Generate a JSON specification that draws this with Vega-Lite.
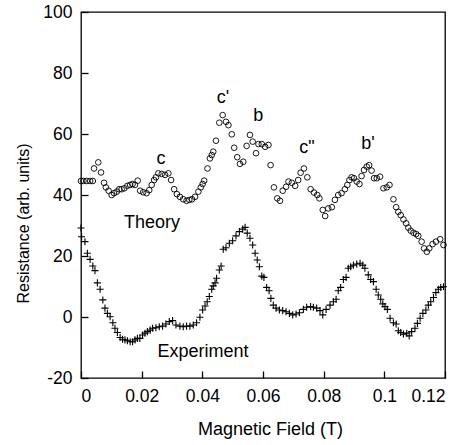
{
  "$schema": "https://vega.github.io/schema/vega-lite/v6.json",
  "width": 364,
  "height": 366,
  "autosize": "none",
  "padding": {"left": 81, "top": 12, "right": 22, "bottom": 67},
  "background": "white",
  "config": {
    "font": "Liberation Sans",
    "view": {"stroke": "black", "strokeWidth": 1.3},
    "axis": {
      "domain": false, "offset": -7, "tickColor": "black", "tickWidth": 1.3, "tickSize": 7,
      "labelColor": "black", "titleColor": "black", "labelFont": "Liberation Sans", "titleFont": "Liberation Sans",
      "labelFontSize": 17.5, "titleFontWeight": "normal", "grid": false, "labelPadding": 9
    }
  },
  "datasets": {
    "theory": [
      {"B":0.0000,"R":44.6},{"B":0.0008,"R":44.6},{"B":0.0019,"R":44.6},{"B":0.0030,"R":44.6},{"B":0.0039,"R":44.6},{"B":0.0043,"R":48.7},{"B":0.0057,"R":50.7},{"B":0.0066,"R":47.4},{"B":0.0076,"R":44.0},{"B":0.0082,"R":42.5},{"B":0.0091,"R":41.4},{"B":0.0101,"R":40.0},{"B":0.0109,"R":40.6},{"B":0.0118,"R":41.1},{"B":0.0126,"R":41.9},{"B":0.0134,"R":41.9},{"B":0.0143,"R":42.2},{"B":0.0153,"R":43.0},{"B":0.0162,"R":43.3},{"B":0.0170,"R":43.6},{"B":0.0178,"R":43.3},{"B":0.0187,"R":44.7},{"B":0.0195,"R":41.4},{"B":0.0205,"R":40.9},{"B":0.0216,"R":40.6},{"B":0.0225,"R":41.6},{"B":0.0233,"R":43.3},{"B":0.0241,"R":44.9},{"B":0.0247,"R":45.8},{"B":0.0255,"R":47.1},{"B":0.0266,"R":46.9},{"B":0.0277,"R":46.6},{"B":0.0288,"R":47.1},{"B":0.0297,"R":44.9},{"B":0.0307,"R":41.9},{"B":0.0316,"R":40.3},{"B":0.0326,"R":39.4},{"B":0.0337,"R":38.6},{"B":0.0348,"R":38.1},{"B":0.0357,"R":38.4},{"B":0.0366,"R":38.6},{"B":0.0376,"R":39.4},{"B":0.0387,"R":41.1},{"B":0.0395,"R":42.5},{"B":0.0401,"R":43.6},{"B":0.0406,"R":44.7},{"B":0.0417,"R":48.7},{"B":0.0425,"R":52.0},{"B":0.0431,"R":53.1},{"B":0.0436,"R":54.2},{"B":0.0445,"R":57.8},{"B":0.0456,"R":63.7},{"B":0.0467,"R":66.2},{"B":0.0478,"R":64.0},{"B":0.0486,"R":62.9},{"B":0.0497,"R":59.9},{"B":0.0505,"R":55.5},{"B":0.0515,"R":52.4},{"B":0.0524,"R":50.2},{"B":0.0535,"R":50.9},{"B":0.0546,"R":56.1},{"B":0.0557,"R":59.7},{"B":0.0566,"R":57.5},{"B":0.0577,"R":53.7},{"B":0.0585,"R":56.7},{"B":0.0596,"R":56.7},{"B":0.0607,"R":55.8},{"B":0.0618,"R":56.4},{"B":0.0625,"R":49.8},{"B":0.0636,"R":42.5},{"B":0.0647,"R":38.9},{"B":0.0656,"R":38.1},{"B":0.0665,"R":41.4},{"B":0.0676,"R":42.7},{"B":0.0684,"R":44.4},{"B":0.0695,"R":44.0},{"B":0.0706,"R":43.0},{"B":0.0716,"R":44.9},{"B":0.0724,"R":47.3},{"B":0.0735,"R":48.7},{"B":0.0746,"R":45.8},{"B":0.0757,"R":41.9},{"B":0.0768,"R":40.8},{"B":0.0779,"R":40.0},{"B":0.0786,"R":38.9},{"B":0.0797,"R":35.1},{"B":0.0805,"R":33.1},{"B":0.0815,"R":35.6},{"B":0.0827,"R":36.0},{"B":0.0837,"R":38.4},{"B":0.0848,"R":40.0},{"B":0.0859,"R":40.6},{"B":0.0870,"R":41.9},{"B":0.0878,"R":43.3},{"B":0.0885,"R":44.9},{"B":0.0892,"R":45.8},{"B":0.0900,"R":45.5},{"B":0.0909,"R":44.4},{"B":0.0918,"R":43.6},{"B":0.0925,"R":46.2},{"B":0.0933,"R":48.2},{"B":0.0942,"R":49.3},{"B":0.0950,"R":49.8},{"B":0.0958,"R":48.0},{"B":0.0966,"R":45.5},{"B":0.0975,"R":45.5},{"B":0.0986,"R":46.0},{"B":0.0997,"R":42.2},{"B":0.1008,"R":42.5},{"B":0.1017,"R":43.3},{"B":0.1030,"R":38.6},{"B":0.1039,"R":36.0},{"B":0.1046,"R":34.5},{"B":0.1054,"R":33.4},{"B":0.1063,"R":32.0},{"B":0.1072,"R":30.7},{"B":0.1079,"R":29.3},{"B":0.1087,"R":28.3},{"B":0.1096,"R":27.6},{"B":0.1105,"R":27.2},{"B":0.1112,"R":26.6},{"B":0.1123,"R":24.7},{"B":0.1131,"R":22.5},{"B":0.1140,"R":21.4},{"B":0.1148,"R":22.5},{"B":0.1159,"R":23.9},{"B":0.1170,"R":24.7},{"B":0.1184,"R":25.5},{"B":0.1195,"R":23.6}
    ],
    "experiment": [
      {"B":0.0000,"R":29.2},{"B":0.0002,"R":26.3},{"B":0.0013,"R":24.7},{"B":0.0021,"R":20.9},{"B":0.0030,"R":18.9},{"B":0.0039,"R":16.7},{"B":0.0046,"R":15.2},{"B":0.0054,"R":11.2},{"B":0.0063,"R":9.1},{"B":0.0072,"R":5.6},{"B":0.0079,"R":2.9},{"B":0.0087,"R":1.2},{"B":0.0096,"R":0.1},{"B":0.0105,"R":-1.9},{"B":0.0112,"R":-3.7},{"B":0.0120,"R":-5.1},{"B":0.0129,"R":-6.7},{"B":0.0137,"R":-7.3},{"B":0.0145,"R":-7.5},{"B":0.0153,"R":-7.8},{"B":0.0162,"R":-8.1},{"B":0.0170,"R":-8.1},{"B":0.0178,"R":-7.5},{"B":0.0186,"R":-7.0},{"B":0.0194,"R":-7.0},{"B":0.0203,"R":-5.9},{"B":0.0211,"R":-5.3},{"B":0.0219,"R":-4.8},{"B":0.0228,"R":-4.3},{"B":0.0236,"R":-3.7},{"B":0.0247,"R":-3.5},{"B":0.0258,"R":-3.2},{"B":0.0269,"R":-3.0},{"B":0.0280,"R":-2.3},{"B":0.0291,"R":-1.5},{"B":0.0302,"R":-1.2},{"B":0.0313,"R":-2.6},{"B":0.0326,"R":-3.0},{"B":0.0337,"R":-3.2},{"B":0.0348,"R":-3.0},{"B":0.0359,"R":-3.0},{"B":0.0370,"R":-2.6},{"B":0.0381,"R":-1.9},{"B":0.0392,"R":-0.1},{"B":0.0401,"R":2.3},{"B":0.0409,"R":3.6},{"B":0.0416,"R":5.0},{"B":0.0423,"R":6.7},{"B":0.0431,"R":9.1},{"B":0.0436,"R":10.2},{"B":0.0442,"R":11.2},{"B":0.0447,"R":12.7},{"B":0.0456,"R":15.4},{"B":0.0462,"R":16.7},{"B":0.0469,"R":22.2},{"B":0.0478,"R":22.7},{"B":0.0489,"R":24.2},{"B":0.0500,"R":25.0},{"B":0.0511,"R":26.6},{"B":0.0522,"R":28.0},{"B":0.0533,"R":28.8},{"B":0.0541,"R":29.4},{"B":0.0548,"R":27.5},{"B":0.0557,"R":25.8},{"B":0.0566,"R":23.6},{"B":0.0574,"R":20.9},{"B":0.0581,"R":18.7},{"B":0.0588,"R":16.5},{"B":0.0596,"R":13.4},{"B":0.0603,"R":13.0},{"B":0.0612,"R":9.7},{"B":0.0620,"R":8.6},{"B":0.0626,"R":6.1},{"B":0.0634,"R":3.9},{"B":0.0643,"R":2.9},{"B":0.0654,"R":2.3},{"B":0.0665,"R":2.1},{"B":0.0676,"R":1.7},{"B":0.0687,"R":1.2},{"B":0.0698,"R":0.7},{"B":0.0709,"R":1.0},{"B":0.0720,"R":1.4},{"B":0.0733,"R":2.5},{"B":0.0744,"R":3.2},{"B":0.0757,"R":3.4},{"B":0.0766,"R":3.2},{"B":0.0777,"R":2.9},{"B":0.0788,"R":2.1},{"B":0.0797,"R":0.7},{"B":0.0808,"R":2.5},{"B":0.0821,"R":3.9},{"B":0.0832,"R":5.0},{"B":0.0841,"R":5.8},{"B":0.0848,"R":8.6},{"B":0.0856,"R":9.7},{"B":0.0865,"R":12.3},{"B":0.0874,"R":13.0},{"B":0.0881,"R":16.0},{"B":0.0889,"R":16.5},{"B":0.0898,"R":17.0},{"B":0.0909,"R":17.4},{"B":0.0920,"R":17.6},{"B":0.0929,"R":17.0},{"B":0.0936,"R":16.0},{"B":0.0947,"R":13.8},{"B":0.0955,"R":12.3},{"B":0.0964,"R":11.6},{"B":0.0973,"R":9.1},{"B":0.0980,"R":7.2},{"B":0.0988,"R":5.8},{"B":0.0995,"R":4.3},{"B":0.1002,"R":3.4},{"B":0.1010,"R":2.5},{"B":0.1019,"R":-0.4},{"B":0.1030,"R":-1.9},{"B":0.1039,"R":-2.3},{"B":0.1046,"R":-4.5},{"B":0.1054,"R":-5.1},{"B":0.1063,"R":-5.6},{"B":0.1074,"R":-5.3},{"B":0.1082,"R":-6.2},{"B":0.1090,"R":-4.8},{"B":0.1101,"R":-3.7},{"B":0.1109,"R":-2.1},{"B":0.1118,"R":-0.4},{"B":0.1127,"R":1.2},{"B":0.1137,"R":2.3},{"B":0.1145,"R":3.9},{"B":0.1153,"R":5.0},{"B":0.1162,"R":6.4},{"B":0.1170,"R":8.0},{"B":0.1178,"R":9.1},{"B":0.1186,"R":9.7},{"B":0.1195,"R":9.9}
    ],
    "labels": [
      {"B": 0.0264, "R": 51.8, "t": "c"},
      {"B": 0.0468, "R": 71.8, "t": "c'"},
      {"B": 0.0584, "R": 65.9, "t": "b"},
      {"B": 0.0745, "R": 55.4, "t": "c\""},
      {"B": 0.0946, "R": 56.7, "t": "b'"},
      {"B": 0.0234, "R": 30.7, "t": "Theory"},
      {"B": 0.0402, "R": -11.4, "t": "Experiment"}
    ]
  },
  "layer": [
    {
      "data": {"name": "theory"},
      "mark": {"type": "point", "shape": "circle", "filled": false, "stroke": "black", "strokeWidth": 0.9, "size": 32, "opacity": 1},
      "encoding": {
        "x": {"field": "B", "type": "quantitative", "scale": {"domain": [0, 0.12], "nice": false, "zero": false},
          "axis": {"values": [0, 0.02, 0.04, 0.06, 0.08, 0.1, 0.12], "format": "~g", "title": "Magnetic Field (T)", "titleFontSize": 18, "titleX": 189, "titlePadding": 16}},
        "y": {"field": "R", "type": "quantitative", "scale": {"domain": [-20, 100], "nice": false, "zero": false},
          "axis": {"values": [-20, 0, 20, 40, 60, 80, 100], "labelExpr": "'' + datum.value", "title": "Resistance (arb. units)", "titleFontSize": 16, "titleX": -57, "titleY": 211}}
      }
    },
    {
      "data": {"name": "experiment"},
      "mark": {"type": "point", "shape": "M-1,0H1M0,-1V1", "filled": false, "stroke": "black", "strokeWidth": 1.1, "size": 50, "opacity": 1},
      "encoding": {
        "x": {"field": "B", "type": "quantitative"},
        "y": {"field": "R", "type": "quantitative"}
      }
    },
    {
      "data": {"name": "labels"},
      "mark": {"type": "text", "fontSize": 18, "align": "center", "baseline": "middle", "color": "black", "font": "Liberation Sans"},
      "encoding": {
        "x": {"field": "B", "type": "quantitative"},
        "y": {"field": "R", "type": "quantitative"},
        "text": {"field": "t"}
      }
    }
  ]
}
